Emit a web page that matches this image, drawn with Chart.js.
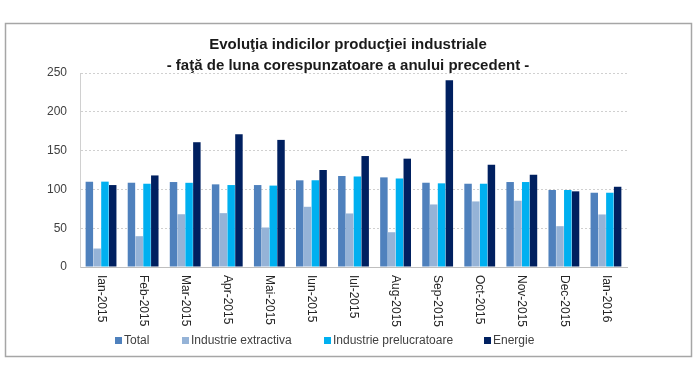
<!DOCTYPE html>
<html>
<head>
<meta charset="utf-8">
<script src="https://cdn.jsdelivr.net/npm/chart.js"></script>
<style>
  body { margin: 0; background: #fff; }
  #wrap { width: 700px; height: 375px; }
</style>
</head>
<body>
<div id="wrap"><canvas id="graphCanvas"></canvas></div>
<script>
// date
var luni = ['Ian-2015', 'Feb-2015', 'Mar-2015', 'Apr-2015', 'Mai-2015', 'Iun-2015', 'Iul-2015',
            'Aug-2015', 'Sep-2015', 'Oct-2015', 'Nov-2015', 'Dec-2015', 'Ian-2016'];
var total =        [110, 108.6, 109.5, 106.5, 105.6, 111.7, 117.3, 115.5, 108.6, 107.3, 109.5, 99.2, 95.7];
var extractiva =   [23.8, 39.7, 68, 69.4, 50.9, 77.6, 69, 44.8, 80.6, 84.5, 85.4, 52.6, 67.7];
var prelucratoare = [110, 107.3, 108.5, 105.6, 104.9, 111.7, 116.5, 114.2, 107.8, 107.3, 109.5, 99.2, 95.7];
var energie =      [105.6, 118, 160.8, 171, 163.8, 125, 143, 139.6, 240.5, 131.9, 119, 97.5, 103.4];
var yTicks = [0, 50, 100, 150, 200, 250];

var titlu = ['Evoluţia indicilor producţiei industriale',
             '- faţă de luna corespunzatoare a anului precedent -'];

var fontNormal = '"Liberation Sans", Arial, sans-serif';

// chenar, titlu, etichete rotite si legenda
var decor = {
    id: 'decor',
    beforeDraw: function (chart) {
        var ctx = chart.ctx;
        ctx.save();
        ctx.fillStyle = '#fff';
        ctx.fillRect(0, 0, chart.width, chart.height);
        ctx.strokeStyle = '#a6a6a6';
        ctx.lineWidth = 1.5;
        ctx.strokeRect(5.5, 23.5, 686, 333);
        ctx.restore();
    },
    afterDraw: function (chart) {
        var ctx = chart.ctx;
        ctx.save();
        ctx.fillStyle = '#1a1a1a';
        ctx.font = 'bold 15px ' + fontNormal;
        ctx.textAlign = 'center';
        ctx.textBaseline = 'middle';
        ctx.fillText(titlu[0], 348, 45);
        ctx.fillText(titlu[1], 348, 66);

        // etichete axa X, citite de sus in jos
        var xs = chart.scales.x;
        ctx.font = '12px ' + fontNormal;
        ctx.fillStyle = '#262626';
        ctx.textAlign = 'left';
        for (var i = 0; i < luni.length; i++) {
            ctx.save();
            ctx.translate(xs.getPixelForTick(i), xs.top + 8);
            ctx.rotate(Math.PI / 2);
            ctx.fillText(luni[i], 0, 0);
            ctx.restore();
        }

        // legenda
        var legX = [115, 182, 324, 484];
        ctx.font = '12px ' + fontNormal;
        chart.data.datasets.forEach(function (ds, k) {
            ctx.fillStyle = ds.backgroundColor;
            ctx.fillRect(legX[k], 337, 7, 7);
            ctx.fillStyle = '#404040';
            ctx.fillText(ds.label, legX[k] + 9, 341);
        });
        ctx.restore();
    }
};

var chartdata = {
    labels: luni,
    datasets: [
        { label: 'Total', backgroundColor: '#4F81BD', data: total },
        { label: 'Industrie extractiva', backgroundColor: '#95B3D7', data: extractiva },
        { label: 'Industrie prelucratoare', backgroundColor: '#00B0F0', data: prelucratoare },
        { label: 'Energie', backgroundColor: '#002060', data: energie }
    ]
};

var graphTarget = document.getElementById('graphCanvas');
var barGraph = new Chart(graphTarget, {
    type: 'bar',
    data: chartdata,
    plugins: [decor],
    options: {
        responsive: true,
        maintainAspectRatio: false,
        animation: false,
        layout: { padding: { left: 10, right: 73, top: 73, bottom: 0 } },
        plugins: {
            legend: { display: false },
            title: { display: false },
            tooltip: { enabled: false }
        },
        datasets: {
            bar: { categoryPercentage: 0.74, barPercentage: 0.96 }
        },
        scales: {
            x: {
                grid: { display: false },
                border: { display: true, color: '#bfbfbf', width: 1 },
                ticks: { display: false },
                afterFit: function (s) { s.height = 108; }
            },
            y: {
                min: 0,
                max: 250,
                afterBuildTicks: function (s) {
                    s.ticks = yTicks.map(function (v) { return { value: v }; });
                },
                grid: { color: '#d0d0d0', drawTicks: false },
                border: { display: true, color: '#d0d0d0', dash: [2, 2] },
                ticks: {
                    padding: 13,
                    color: '#404040',
                    font: { family: fontNormal, size: 12 }
                },
                afterFit: function (s) { s.width = 70; }
            }
        }
    }
});
</script>
</body>
</html>
